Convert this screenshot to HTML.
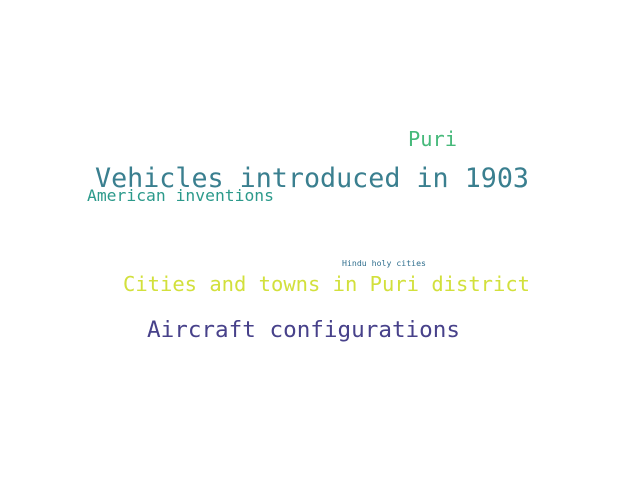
<!DOCTYPE html>
<html><head><meta charset="utf-8"><style>html,body{margin:0;background:#fff}svg{display:block}text{font-family:"DejaVu Sans Mono","Liberation Mono",monospace}</style></head>
<body>
<svg width="640" height="480">
<rect width="640" height="480" fill="#fff"/>
<g id="words"></g>
</svg>
<script>
const words = ["Vehicles introduced in 1903","Puri","American inventions","Hindu holy cities","Cities and towns in Puri district","Aircraft configurations"];
const sizes = [26.7,20.3,16.3,8.2,20.5,22.6];
const colors = ["#3a7f8f","#46b97a","#2c9a8b","#306f8e","#d2e03c","#47418a"];
const xs = [95,408,87,342,123,147];
const ys = [187,146,201,266,291,337];
const widths = [434,49,187,84,407,313];
const g = document.getElementById('words');
words.forEach((w,i)=>{
  const t = document.createElementNS('http://www.w3.org/2000/svg','text');
  
  
  t.setAttribute('x', xs[i]);
  t.setAttribute('y', ys[i]);
  t.setAttribute('font-size', sizes[i]);
  t.setAttribute('fill', colors[i]);
  t.setAttribute('textLength', widths[i]);
  t.setAttribute('lengthAdjust', 'spacingAndGlyphs');
  t.textContent = w;
  g.appendChild(t);
});
</script>
</body></html>
